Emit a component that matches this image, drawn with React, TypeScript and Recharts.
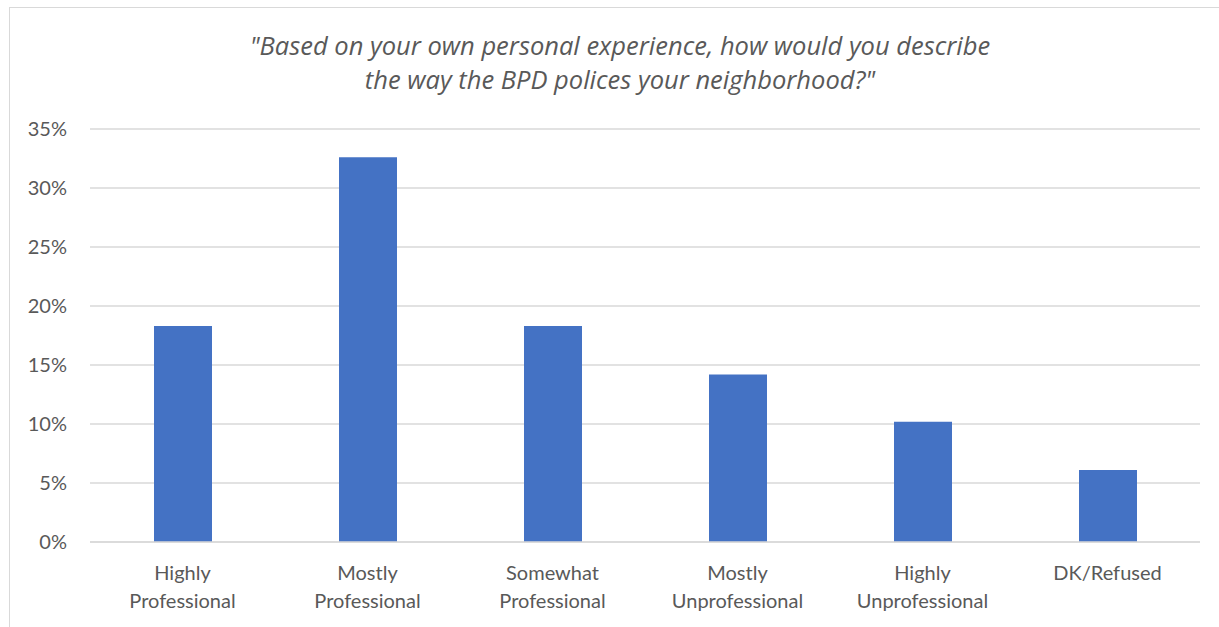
import { BarChart, Bar, XAxis, YAxis, CartesianGrid } from "recharts";

const categories = [
  ["Highly", "Professional"],
  ["Mostly", "Professional"],
  ["Somewhat", "Professional"],
  ["Mostly", "Unprofessional"],
  ["Highly", "Unprofessional"],
  ["DK/Refused"],
];
const shares = [18.3, 32.6, 18.3, 14.2, 10.2, 6.1];
const yTicks = [0, 5, 10, 15, 20, 25, 30, 35];
const titleLines = [
  '"Based on your own personal experience, how would you describe',
  'the way the BPD polices your neighborhood?"',
];

const data = categories.map((lines, i) => ({
  name: lines.join(" "),
  lines,
  value: shares[i],
}));

const FONT = "Lato, 'Open Sans', sans-serif";

function CategoryTick(props: any) {
  const { x, y, payload, index } = props;
  const lines = categories[index] ?? [String(payload.value)];
  return (
    <text x={x} y={y} textAnchor="middle" fill="#595959" fontSize={20} fontFamily={FONT}>
      {lines.map((l, i) => (
        <tspan key={i} x={x} dy={i === 0 ? 30 : 28}>
          {l}
        </tspan>
      ))}
    </text>
  );
}

export default function App() {
  return (
    <div
      style={{
        position: "absolute",
        left: 0,
        top: 0,
        width: 1219,
        height: 627,
        overflow: "hidden",
        background: "#fff",
      }}
    >
      <div
        style={{
          position: "absolute",
          left: 9,
          top: 7,
          width: 1220,
          height: 630,
          borderLeft: "1px solid #d9d9d9",
          borderTop: "1px solid #d9d9d9",
        }}
      />
      <div
        style={{
          position: "absolute",
          left: 0,
          top: 28,
          width: 1240,
          textAlign: "center",
          fontFamily: "'Open Sans', sans-serif",
          fontStyle: "italic",
          fontSize: 25.5,
          lineHeight: "34px",
          color: "#595959",
        }}
      >
        {titleLines.map((t, i) => (
          <div key={i}>{t}</div>
        ))}
      </div>
      <div style={{ position: "absolute", left: 0, top: 0 }}>
        <BarChart
          width={1219}
          height={627}
          data={data}
          margin={{ top: 129, right: 19, left: 0, bottom: 0 }}
          barSize={58}
        >
          <CartesianGrid vertical={false} stroke="#d9d9d9" strokeWidth={1.5} />
          <XAxis
            dataKey="name"
            axisLine={{ stroke: "#d9d9d9", strokeWidth: 1.5 }}
            tickLine={false}
            interval={0}
            height={85}
            tick={<CategoryTick />}
          />
          <YAxis
            width={90}
            domain={[0, 35]}
            ticks={yTicks}
            axisLine={false}
            tickLine={false}
            tickSize={0}
            tickMargin={23}
            tickFormatter={(v) => `${v}%`}
            tick={{ fill: "#595959", fontSize: 20, fontFamily: FONT }}
          />
          <Bar dataKey="value" fill="#4472c4" isAnimationActive={false} />
        </BarChart>
      </div>
    </div>
  );
}
